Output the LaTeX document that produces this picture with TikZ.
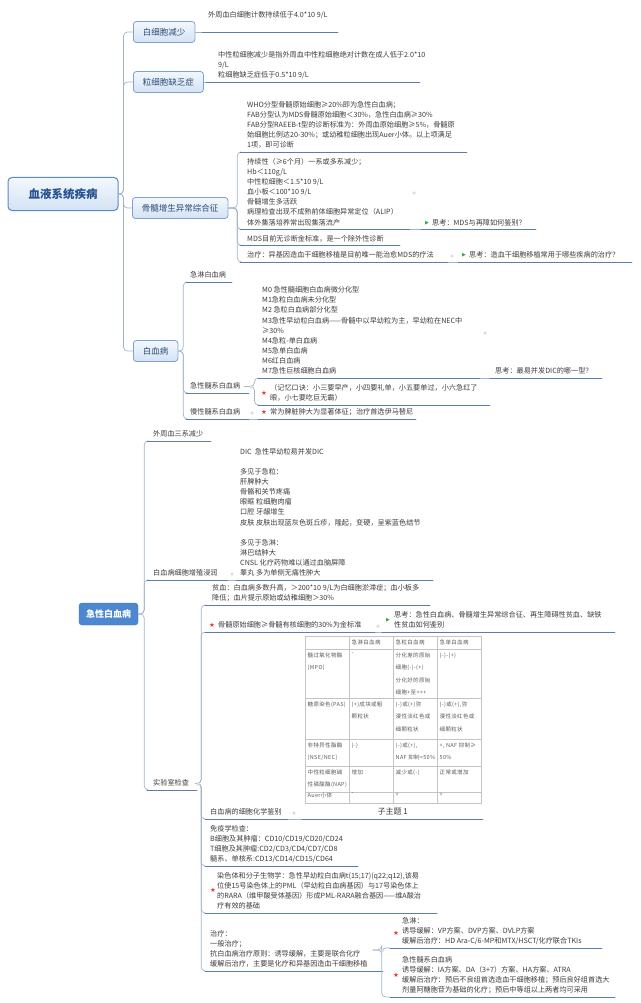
\documentclass[tikz,border=0pt]{standalone}
\usepackage{fontspec}
\setmainfont{Noto Sans CJK SC}
\newfontfamily\symfont{DejaVu Sans}
\newfontfamily\cellfont{Noto Sans CJK SC}[LetterSpace=6]
\definecolor{linkc}{HTML}{A3B4CA}
\definecolor{ulinec}{HTML}{5A7FAF}
\definecolor{txtc}{HTML}{3C3C3C}
\definecolor{boxline}{HTML}{7EA2CF}
\definecolor{boxtop}{HTML}{F4F8FD}
\definecolor{boxbot}{HTML}{D3E2F4}
\definecolor{boxtext}{HTML}{2B4C78}
\definecolor{rootline}{HTML}{5A88C4}
\definecolor{roottext}{HTML}{24508F}
\definecolor{akutfill}{HTML}{4D87D0}
\definecolor{starred}{HTML}{E23B3B}
\definecolor{flaggreen}{HTML}{2EA84A}
\definecolor{tabline}{HTML}{C4C4C4}
\definecolor{celltext}{HTML}{5A5A5A}
\definecolor{knobc}{HTML}{D6DCE4}
\tikzset{
  rootbox/.style={draw=rootline, line width=1pt, top color=boxtop, bottom color=boxbot, rounded corners=4pt,
    minimum width=110pt, minimum height=33pt, text=roottext, font=\fontsize{11.5}{13}\selectfont\bfseries},
  mainbox/.style={anchor=west, draw=boxline, line width=0.8pt, top color=boxtop, bottom color=boxbot,
    rounded corners=3pt, inner xsep=9.5pt, inner ysep=0pt, minimum height=21pt, text=boxtext,
    font=\fontsize{8.5}{10}\selectfont},
  akutbox/.style={draw=akutfill!85!black, fill=akutfill, rounded corners=3pt, minimum width=59pt,
    minimum height=22pt, text=white, font=\fontsize{9}{11}\selectfont\bfseries},
  topic/.style={anchor=south west, align=left, inner xsep=6pt, inner ysep=1.2pt, text=txtc,
    font=\fontsize{7.15}{10.1}\selectfont, execute at end node=\strut},
  link/.style={draw=linkc, line width=0.7pt, rounded corners=4pt},
  uline/.style={draw=ulinec, line width=0.9pt, line cap=round},
  knob/.style={circle, fill=knobc, inner sep=0pt, minimum size=3.5pt},
  staricon/.style={inner sep=0pt, text=starred, font=\symfont\fontsize{6.5}{7}\selectfont},
  flagicon/.style={inner sep=0pt, text=flaggreen, font=\symfont\fontsize{5}{6}\selectfont},
  cell/.style={anchor=north west, align=left, inner sep=0pt, text=celltext, font=\cellfont\fontsize{5.5}{12.5}\selectfont},
  tabrule/.style={draw=tabline, line width=0.5pt}
}
\begin{document}
\begin{tikzpicture}[x=1pt,y=-1pt,line join=round]
\useasboundingbox (0,0) rectangle (640,1003);

% first map
\node[rootbox] (root) at (63,194) {血液系统疾病};
\node[mainbox] (wbc) at (133,32) {白细胞减少};
\node[mainbox] (agran) at (133,82) {粒细胞缺乏症};
\node[mainbox] (mds) at (132,208) {骨髓增生异常综合征};
\node[mainbox] (leuk) at (133,351) {白血病};
\foreach \n in {wbc,agran,mds,leuk}
  \draw[link] (root.east) -- ++(5,0) |- (\n.west);

\node[topic] (wbc-a) at (202,32) {外周血白细胞计数持续低于4.0*10 9/L\\};
\draw[link] (wbc.east) -- (wbc-a.south west);
\draw[uline] (wbc-a.south west) -- ++(136,0);
\node[topic, inner xsep=12pt] (agran-a) at (206,82) {中性粒细胞减少是指外周血中性粒细胞绝对计数在成人低于2.0*10\\9/L\\粒细胞缺乏症低于0.5*10 9/L};
\draw[link] (agran.east) -- (agran-a.south west);
\draw[uline] (agran-a.south west) -- ++(214,0);

% MDS
\node[topic, inner xsep=7pt] (who) at (240,152) {WHO分型骨髓原始细胞≥20\%即为急性白血病；\\FAB分型认为MDS骨髓原始细胞＜30\%，急性白血病≥30\%\\FAB分型RAEEB-t型的诊断标准为：外周血原始细胞≥5\%，骨髓原\\始细胞比例达20-30\%；或幼稚粒细胞出现Auer小体。以上项满足\\1项，即可诊断};
\node[topic, inner xsep=7pt] (persist) at (240,229.5) {持续性（≥6个月）一系或多系减少；\\Hb＜110g/L\\中性粒细胞＜1.5*10 9/L\\血小板＜100*10 9/L\\骨髓增生多活跃\\病理检查出现不成熟前体细胞异常定位（ALIP）\\体外集落培养常出现集落流产};
\node[topic, inner xsep=7pt] (nogold) at (240,245.5) {MDS目前无诊断金标准，是一个除外性诊断};
\node[topic, inner xsep=7pt] (mdstx) at (240,262) {治疗：异基因造血干细胞移植是目前唯一能治愈MDS的疗法};
\foreach \n/\w in {who/227,persist/170,nogold/160,mdstx/208} {
  \draw[link] (mds.east) -- ++(9,0) |- (\n.south west);
  \draw[uline] (\n.south west) -- ++(\w,0) coordinate (\n-e);
}
\node[topic, inner xsep=11pt] (think1) at (421,229.5) {思考：MDS与再障如何鉴别？};
\node[flagicon] (flag1) at (427,223) {▶};
\draw[link] (persist-e) -- (think1.south west);
\draw[uline] (think1.south west) -- ++(115,0);
\node[knob] (persist-k) at (414,193) {};
\node[topic, inner xsep=11pt] (think2) at (458,262) {思考：造血干细胞移植常用于哪些疾病的治疗？};
\node[flagicon] (flag2) at (464,255) {▶};
\draw[link] (mdstx-e) -- (think2.south west);
\draw[uline] (think2.south west) -- ++(174,0);
\node[knob] (mdstx-k) at (452,256) {};

% leukemia
\node[topic, inner xsep=4pt] (all) at (186,282) {急淋白血病};
\node[topic, inner xsep=4pt] (aml) at (186,393) {急性髓系白血病};
\node[topic, inner xsep=4pt] (cml) at (186,419) {慢性髓系白血病};
\foreach \n/\w in {all/46,aml/63,cml/63} {
  \draw[link] (leuk.east) -- ++(5,0) |- (\n.south west);
  \draw[uline] (\n.south west) -- ++(\w,0) coordinate (\n-e);
}
\node[topic, inner xsep=4pt] (mtype) at (258,378) {M0 急性髓细胞白血病微分化型\\M1急粒白血病未分化型\\M2 急粒白血病部分化型\\M3急性早幼粒白血病——骨髓中以早幼粒为主，早幼粒在NEC中\\≥30\%\\M4急粒-单白血病\\M5急单白血病\\M6红白血病\\M7急性巨核细胞白血病};
\node[topic, inner xsep=12pt] (mnemo) at (258,405) {（记忆口诀：小三要早产，小四要礼单，小五要单过，小六急红了\\眼，小七要吃巨无霸）};
\node[staricon] (mnemo-s) at (264,393) {★};
\foreach \n/\w in {mtype/222,mnemo/232} {
  \draw[link] (aml.east) -- ++(10,0) |- (\n.south west);
  \draw[uline] (\n.south west) -- ++(\w,0) coordinate (\n-e);
}
\node[knob] (aml-k) at (251,387) {};
\node[topic, inner xsep=5pt] (think3) at (490,378) {思考：最易并发DIC的哪一型？};
\draw[link] (mtype-e) -- (think3.south west);
\draw[uline] (think3.south west) -- ++(112,0);
\node[knob] (mtype-k) at (485,333) {};
\node[topic, inner xsep=12pt] (cmltx) at (258,419) {常为脾脏肿大为显著体征；治疗首选伊马替尼};
\node[staricon] (cml-s) at (264,412) {★};
\draw[link] (cml-e) -- (cmltx.south west);
\draw[uline] (cmltx.south west) -- ++(158,0);
\node[knob] (cml-k) at (252,413) {};

% second map
\node[akutbox] (akut) at (108.5,614) {急性白血病};
\node[topic] (pan) at (147,441) {外周血三系减少};
\node[topic] (infil) at (147,580) {白血病细胞增殖浸润};
\node[topic] (lab) at (147,790) {实验室检查};
\foreach \n/\w in {pan/64,infil/81,lab/50} {
  \draw[link] (akut.east) -- ++(6,0) |- (\n.south west);
  \draw[uline] (\n.south west) -- ++(\w,0) coordinate (\n-e);
}
\node[topic, inner xsep=4pt] (dic) at (236,580) {DIC\ \ 急性早幼粒易并发DIC\\[10.1pt]多见于急粒：\\肝脾肿大\\骨骼和关节疼痛\\眼眶 粒细胞肉瘤\\口腔 牙龈增生\\皮肤 皮肤出现蓝灰色斑丘疹，隆起，变硬，呈紫蓝色结节\\[10.1pt]多见于急淋：\\淋巴结肿大\\CNSL 化疗药物难以通过血脑屏障\\睾丸 多为单侧无痛性肿大};
\draw[link] (infil-e) -- (dic.south west);
\draw[uline] (dic.south west) -- ++(197,0);
\node[knob] (infil-k) at (232,574) {};

\node[topic, inner xsep=7pt] (anemia) at (205,605) {贫血：白血病多数升高，＞200*10 9/L为白细胞淤滞症；血小板多\\降低；血片提示原始或幼稚细胞＞30\%};
\node[topic, inner xsep=13pt] (bm) at (205,632) {骨髓原始细胞≥骨髓有核细胞的30\%为金标准};
\node[staricon] (bm-s) at (212,625) {★};
\node[topic, inner xsep=5pt] (cyto) at (205,819) {白血病的细胞化学鉴别};
\node[topic, inner xsep=5pt] (immu) at (205,866) {免疫学检查：\\B细胞及其肿瘤：CD10/CD19/CD20/CD24\\T细胞及其肿瘤:CD2/CD3/CD4/CD7/CD8\\髓系、单核系:CD13/CD14/CD15/CD64};
\node[topic, inner xsep=12pt] (chromo) at (205,913) {染色体和分子生物学：急性早幼粒白血病t(15;17)(q22;q12),该易\\位使15号染色体上的PML（早幼粒白血病基因）与17号染色体上\\的RARA（维甲酸受体基因）形成PML-RARA融合基因——维A酸治\\疗有效的基础};
\node[staricon] (chromo-s) at (213,890) {★};
\node[topic, inner xsep=5pt] (treat) at (205,971) {治疗：\\一般治疗；\\抗白血病治疗原则：诱导缓解，主要是联合化疗\\缓解后治疗，主要是化疗和异基因造血干细胞移植};
\foreach \n/\w in {anemia/225,bm/170,cyto/83,immu/153,chromo/232,treat/178} {
  \draw[link] (lab.east) -- ++(6,0) |- (\n.south west);
  \draw[uline] (\n.south west) -- ++(\w,0) coordinate (\n-e);
}
\node[knob] (lab-k) at (198,784) {};
\node[topic, inner xsep=12pt] (think4) at (382,632) {思考：急性白血病、骨髓增生异常综合征、再生障碍性贫血、缺铁\\性贫血如何鉴别};
\node[flagicon] (flag4) at (388,620) {▶};
\draw[link] (bm-e) -- (think4.south west);
\draw[uline] (think4.south west) -- ++(233,0);
\node[knob] (bm-k) at (378,626) {};

% table above the subtopic
\node[topic, minimum width=181pt, inner xsep=0pt, font=\fontsize{8}{10}\selectfont] (sub1) at (302,819) {子主题 1};
\draw[link] (cyto-e) -- (sub1.south west);
\draw[uline] (sub1.south west) -- ++(181,0);
\node[knob] (cyto-k) at (294,813) {};
\draw[tabrule] (305,636) rectangle (481,803);
\foreach \y in {649,698,739,766,792}
  \draw[tabrule] (305,\y) -- (481,\y);
\foreach \x in {349,393,437}
  \draw[tabrule] (\x,636) -- (\x,803);
\node[cell] (h2) at (351.5,639.6) {急淋白血病};
\node[cell] (h3) at (395.5,639.6) {急粒白血病};
\node[cell] (h4) at (439.5,639.6) {急单白血病};
\node[cell] (mpo1) at (307.5,652.6) {髓过氧化物酶\\(MPO)};
\node[cell] (mpo2) at (351.5,652.6) {-};
\node[cell] (mpo3) at (395.5,652.6) {分化差的原始\\细胞(-)-(+)\\分化好的原始\\细胞+至+++};
\node[cell] (mpo4) at (439.5,652.6) {(-)-(+)};
\node[cell] (pas1) at (307.5,701.6) {糖原染色(PAS)};
\node[cell] (pas2) at (351.5,701.6) {(+)成块或粗\\颗粒状};
\node[cell] (pas3) at (395.5,701.6) {(-)或(+)弥\\漫性淡红色或\\细颗粒状};
\node[cell] (pas4) at (439.5,701.6) {(-)或(+),弥\\漫性淡红色或\\细颗粒状};
\node[cell] (nse1) at (307.5,742.6) {非特异性酯酶\\(NSE/NEC)};
\node[cell] (nse2) at (351.5,742.6) {(-)};
\node[cell] (nse3) at (395.5,742.6) {(-)或(+),\\NAF 抑制<50\%};
\node[cell] (nse4) at (439.5,742.6) {+, NAF 抑制≥\\50\%};
\node[cell] (nap1) at (307.5,769.6) {中性粒细胞碱\\性磷酸酶(NAP)};
\node[cell] (nap2) at (351.5,769.6) {增加};
\node[cell] (nap3) at (395.5,769.6) {减少或(-)};
\node[cell] (nap4) at (439.5,769.6) {正常或增加};
\node[cell] (auer1) at (307.5,793) {Auer小体};
\node[cell] (auer2) at (351.5,793) {-};
\node[cell] (auer3) at (395.5,793) {+};
\node[cell] (auer4) at (439.5,793) {+};

% treatment
\node[topic, inner xsep=12pt] (all2) at (390,948) {急淋：\\诱导缓解：VP方案、DVP方案、DVLP方案\\缓解后治疗：HD Ara-C/6-MP和MTX/HSCT/化疗联合TKIs};
\node[staricon] (all2-s) at (396,933) {★};
\node[topic, inner xsep=12pt] (aml2) at (390,997) {急性髓系白血病\\诱导缓解：IA方案、DA（3+7）方案、HA方案、ATRA\\缓解后治疗：预后不良组首选造血干细胞移植；预后良好组首选大\\剂量阿糖胞苷为基础的化疗；预后中等组以上两者均可采用};
\node[staricon] (aml2-s) at (396,975) {★};
\foreach \n/\w in {all2/212,aml2/225} {
  \draw[link] (treat.east) -- ++(9,0) |- (\n.south west);
  \draw[uline] (\n.south west) -- ++(\w,0);
}
\node[knob] (treat-k) at (383,950) {};
\end{tikzpicture}
\end{document}
